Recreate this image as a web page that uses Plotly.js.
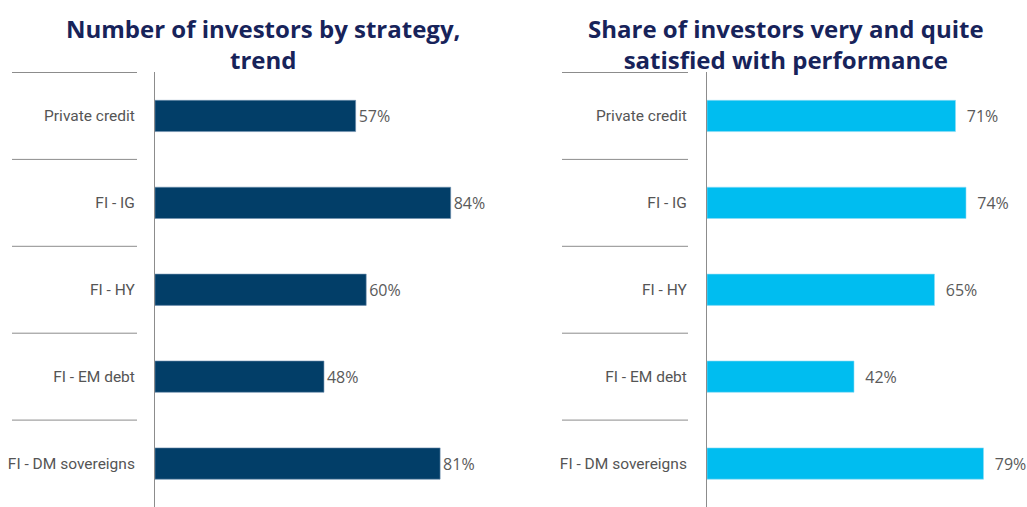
<!DOCTYPE html>
<html>
<head>
<meta charset="utf-8">
<script src="https://cdn.plot.ly/plotly-3.0.1.min.js"></script>
<style>
  html, body { margin: 0; padding: 0; background: #fff; }
  #chart { width: 1027px; height: 507px; }
</style>
</head>
<body>
<div id="chart"></div>
<script>
// data
var strategies = ["Private credit", "FI - IG", "FI - HY", "FI - EM debt", "FI - DM sovereigns"];
var trendShare = [57, 84, 60, 48, 81];
var satisfiedShare = [71, 74, 65, 42, 79];
var leftTitle = "Number of investors by strategy,<br>trend";
var rightTitle = "Share of investors very and quite<br>satisfied with performance";

var W = 1027, H = 507;
var px = function (v) { return v / W; };

var labelFont = {family: "Roboto, sans-serif", size: 15.5, color: "#555"};
var valueFont = {family: "Open Sans, sans-serif", size: 16, color: "#5a5a5a"};
var titleFont = {family: "Open Sans, sans-serif", size: 24, color: "#17235a", weight: "bold"};

var trace1 = {
  type: "bar", orientation: "h",
  x: trendShare, y: strategies,
  xaxis: "x", yaxis: "y",
  width: 0.36,
  marker: {color: "#023e68", line: {color: "#6f8fae", width: 0.6}},
  text: trendShare.map(function (v) { return v + "%"; }),
  textposition: "outside", cliponaxis: false,
  textfont: valueFont,
  hoverinfo: "none"
};

var trace2 = {
  type: "bar", orientation: "h",
  x: satisfiedShare, y: strategies,
  xaxis: "x2", yaxis: "y2",
  width: 0.36,
  marker: {color: "#00bdf0", line: {color: "#8fdcf5", width: 0.6}},
  text: satisfiedShare.map(function (v) { return "  " + v + "%"; }),
  textposition: "outside", cliponaxis: false,
  textfont: valueFont,
  hoverinfo: "none"
};

// separator lines between categories, left of each axis
var shapes = [];
for (var i = 0; i < strategies.length; i++) {
  [["y", 12, 137], ["y2", 562, 688]].forEach(function (s) {
    shapes.push({
      type: "line", xref: "paper", yref: s[0],
      x0: px(s[1]), x1: px(s[2]), y0: i - 0.5, y1: i - 0.5,
      line: {color: "#8c8c8c", width: 1}
    });
  });
}

var yDomain = [0, 1 - 72 / H];

var layout = {
  width: W, height: H,
  margin: {l: 0, r: 0, t: 0, b: 0},
  paper_bgcolor: "#fff", plot_bgcolor: "#fff",
  showlegend: false,
  xaxis: {domain: [px(155), px(155 + 352)], range: [0, 100], visible: false, fixedrange: true},
  xaxis2: {domain: [px(707), px(707 + 315)], range: [0, 90], visible: false, fixedrange: true},
  yaxis: {
    domain: yDomain, anchor: "x", autorange: "reversed",
    showline: true, linecolor: "#8c8c8c", linewidth: 1,
    showgrid: false, zeroline: false, ticks: "",
    ticklabelstandoff: 16, tickfont: labelFont
  },
  yaxis2: {
    domain: yDomain, anchor: "x2", autorange: "reversed",
    showline: true, linecolor: "#8c8c8c", linewidth: 1,
    showgrid: false, zeroline: false, ticks: "",
    ticklabelstandoff: 16, tickfont: labelFont
  },
  shapes: shapes,
  annotations: [
    {text: leftTitle, xref: "paper", yref: "paper", x: px(263), y: 1 - 10 / H,
     xanchor: "center", yanchor: "top", showarrow: false, font: titleFont},
    {text: rightTitle, xref: "paper", yref: "paper", x: px(786), y: 1 - 10 / H,
     xanchor: "center", yanchor: "top", showarrow: false, font: titleFont}
  ]
};

Plotly.newPlot("chart", [trace1, trace2], layout, {displayModeBar: false, staticPlot: true});
</script>
</body>
</html>
